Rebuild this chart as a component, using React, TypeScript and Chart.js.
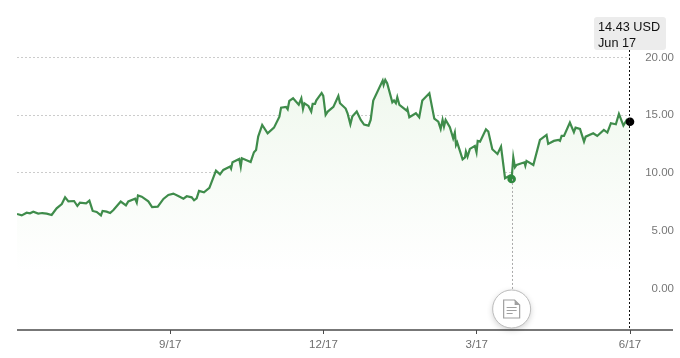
import React, { useEffect, useRef } from "react";
import { Chart, registerables } from "chart.js";

Chart.register(...registerables);

const tradingDays = [
  0, 2, 4.1, 5.5, 6.9, 9, 10.7, 12.6, 14.7, 16.8, 19, 20.4, 21.8, 24.2, 25.6, 26.7, 29.3, 30.7, 32.1, 33.8, 35.6, 36.3, 38, 39.5, 40.9, 44, 46.2, 47.2, 50.1, 50.8, 51.3, 52.9, 55.7, 57.3, 59.7, 62.1, 64.2, 66.3, 68.4, 70.6, 72, 74.1, 75.1, 76.2, 77.2, 79.3, 81.6, 84.4, 86.1, 87.5, 90.4, 90.8, 91.4, 94.3,
  94.9, 95.4, 99.1, 100.5, 101.4, 102.3, 104, 106.3, 109, 111.3, 112, 114.1, 114.8, 115.5, 117.1, 119.5, 120.6, 121.3, 121.9, 123.6, 124.8, 125.4, 126.4, 126.9, 129.2, 129.9, 130.9, 131.8, 134.2, 136.3, 137, 139.4, 140.2, 141.4, 142.2, 144.1, 145.8, 147.2, 149.1, 150, 151.1, 155.1, 155.5, 156.2, 157, 159.2, 159.9, 160.7, 161.3, 162.2, 165.3, 165.6, 166.4, 169.2, 170.6, 171.9, 174.9, 177,
  178.7, 179.7, 180.5, 181.1, 181.8, 183.6, 185, 185.7, 186.2, 186.7, 189, 190, 190.4, 191.1, 192.1, 194.2, 194.9, 195.4, 196.4, 198.9, 199.9, 201.6, 203.8, 205.3, 207, 209.1, 209.8, 210.5, 211.2, 211.9, 215.2, 215.6, 216.1, 219, 221.8, 224.6, 225.3, 227.7, 229.6, 230.3, 231, 232, 234.5, 236.2, 236.9, 238.8, 240.5, 241.2, 244.4, 246.1, 248.9, 250.4, 251.9, 254, 255.3, 257.2, 258.6, 260,
];
const prices = [
  6.45, 6.33, 6.56, 6.51, 6.65, 6.48, 6.53, 6.48, 6.36, 6.94, 7.31, 7.89, 7.54, 7.57, 7.14, 7.43, 7.37, 7.6, 6.71, 6.62, 6.33, 6.71, 6.65, 6.53, 6.79, 7.52, 7.2, 7.54, 7.77, 7.43, 8.06, 7.95, 7.54, 7.05, 7.08, 7.75, 8.09, 8.21, 8.0, 7.77, 7.98, 7.89, 7.63, 7.8, 8.44, 8.32, 8.7, 10.2, 9.88, 10.26, 10.55, 10.37, 10.92, 11.21,
  10.54, 11.27, 10.95, 11.79, 11.99, 13.14, 14.15, 13.43, 13.92, 14.87, 15.65, 15.71, 15.51, 16.23, 16.46, 15.91, 16.46, 15.54, 16.03, 15.8, 15.31, 15.97, 15.97, 16.26, 16.92, 16.66, 15.02, 15.31, 15.71, 16.66, 16.03, 15.57, 15.16, 14.21, 14.87, 15.31, 14.59, 14.18, 14.09, 14.59, 16.26, 17.99, 17.62, 18.05, 17.76, 16.11, 16.26, 16.03, 16.55, 15.88, 15.39, 15.54, 14.82, 15.16, 14.82, 16.26, 16.89, 14.7,
  14.44, 13.81, 14.59, 14.01, 14.59, 13.95, 13.0, 13.49, 12.42, 12.65, 11.18, 11.35, 11.85, 11.41, 12.08, 12.34, 11.79, 12.77, 12.71, 13.78, 13.58, 12.05, 11.64, 12.28, 9.54, 9.77, 9.48, 11.35, 10.49, 10.69, 10.92, 10.63, 11.04, 10.69, 12.86, 13.29, 12.51, 12.77, 12.86, 12.77, 13.2, 13.2, 14.36, 13.52, 13.92, 13.81, 12.71, 13.14, 13.43, 13.2, 13.72, 13.49, 14.3, 14.21, 15.11, 14.1, 14.59, 14.43,
];

const xTickDays = [65, 130, 195, 260];
const xTickLabels = ["9/17", "12/17", "3/17", "6/17"];
const yTickValues = [0, 5, 10, 15, 20];
const eventDay = 209.8;
const eventPrice = 9.48;
const lastDay = 260;
const lastPrice = 14.43;
const calloutLines = ["14.43 USD", "Jun 17"];

const FONT = '"Liberation Sans", Arial, sans-serif';

const overlay = {
  id: "overlay",
  afterDatasetsDraw(chart: any) {
    const { ctx, scales, chartArea } = chart;
    const x = scales.x;
    const y = scales.y;
    ctx.save();

    ctx.strokeStyle = "#4a4a4a";
    ctx.lineWidth = 1.5;
    ctx.beginPath();
    ctx.moveTo(chartArea.left, chartArea.bottom);
    ctx.lineTo(673, chartArea.bottom);
    ctx.stroke();

    const cx = Math.round(x.getPixelForValue(lastDay)) - 0.5;
    ctx.strokeStyle = "#111";
    ctx.lineWidth = 1;
    ctx.setLineDash([2, 2]);
    ctx.beginPath();
    ctx.moveTo(cx, 50);
    ctx.lineTo(cx, chartArea.bottom);
    ctx.stroke();

    const ex = x.getPixelForValue(eventDay);
    const ey = y.getPixelForValue(eventPrice);
    const cy = 309;
    ctx.strokeStyle = "#aaa";
    ctx.setLineDash([2, 2]);
    ctx.beginPath();
    ctx.moveTo(Math.round(ex) + 0.5, ey);
    ctx.lineTo(Math.round(ex) + 0.5, cy - 19);
    ctx.stroke();
    ctx.setLineDash([]);

    ctx.save();
    ctx.shadowColor = "rgba(0,0,0,0.2)";
    ctx.shadowBlur = 6;
    ctx.shadowOffsetY = 2;
    ctx.fillStyle = "#fff";
    ctx.beginPath();
    ctx.arc(ex, cy, 19, 0, Math.PI * 2);
    ctx.fill();
    ctx.restore();
    ctx.strokeStyle = "#bdbdbd";
    ctx.lineWidth = 1;
    ctx.beginPath();
    ctx.arc(ex, cy, 19, 0, Math.PI * 2);
    ctx.stroke();

    const l = ex - 8, t = cy - 9, w = 16, h = 18, fold = 5;
    ctx.strokeStyle = "#a0a0a0";
    ctx.lineWidth = 1.2;
    ctx.beginPath();
    ctx.moveTo(l, t);
    ctx.lineTo(l + w - fold, t);
    ctx.lineTo(l + w, t + fold);
    ctx.lineTo(l + w, t + h);
    ctx.lineTo(l, t + h);
    ctx.closePath();
    ctx.stroke();
    ctx.fillStyle = "#a0a0a0";
    ctx.beginPath();
    ctx.moveTo(l + w - fold, t);
    ctx.lineTo(l + w, t + fold);
    ctx.lineTo(l + w - fold, t + fold);
    ctx.closePath();
    ctx.fill();
    ctx.beginPath();
    [7.5, 10.5, 13.5].forEach((o, i) => {
      ctx.moveTo(l + 3, t + o);
      ctx.lineTo(l + (i === 2 ? 9 : 13), t + o);
    });
    ctx.stroke();

    ctx.fillStyle = "#ececec";
    ctx.beginPath();
    ctx.roundRect(594, 17, 72, 33, 3);
    ctx.fill();
    ctx.fillStyle = "#111";
    ctx.font = `12.7px ${FONT}`;
    ctx.textAlign = "left";
    ctx.textBaseline = "alphabetic";
    ctx.fillText(calloutLines[0], 598, 30.5);
    ctx.fillText(calloutLines[1], 598, 46.5);
    ctx.restore();
  },
};

export default function App() {
  const ref = useRef<HTMLCanvasElement>(null);
  useEffect(() => {
    const canvas = ref.current;
    if (!canvas) return;
    const series = tradingDays.map((d, i) => ({ x: d, y: prices[i] }));
    const chart = new Chart(canvas, {
      type: "line",
      data: {
        datasets: [
          {
            label: "Last",
            data: [{ x: lastDay, y: lastPrice }],
            pointRadius: 4.3,
            pointBackgroundColor: "#000",
            pointBorderWidth: 0,
            showLine: false,
            clip: false,
            order: 0,
          },
          {
            label: "Event",
            data: [{ x: eventDay, y: eventPrice }],
            pointRadius: 4.3,
            pointBackgroundColor: "#2f8a3f",
            pointBorderWidth: 0,
            showLine: false,
            clip: false,
            order: 1,
          },
          {
            label: "Price",
            data: series,
            borderColor: "#3f8c4b",
            borderWidth: 2.2,
            pointRadius: 0,
            tension: 0,
            fill: "start",
            order: 2,
            backgroundColor: (c: any) => {
              const g = c.chart.ctx.createLinearGradient(0, 80, 0, 272);
              g.addColorStop(0, "#f0f8ee");
              g.addColorStop(1, "#ffffff");
              return g;
            },
          },
        ],
      },
      options: {
        responsive: false,
        animation: false,
        events: [],
        layout: { padding: { left: 17, right: 6, top: 0, bottom: 0 } },
        plugins: { legend: { display: false }, tooltip: { enabled: false } },
        scales: {
          x: {
            type: "linear",
            min: 0,
            max: lastDay,
            afterBuildTicks: (s: any) => {
              s.ticks = xTickDays.map((v) => ({ value: v }));
            },
            afterFit: (s: any) => {
              s.height = 28;
              s.paddingLeft = 0;
              s.paddingRight = 0;
            },
            border: { display: false },
            grid: {
              drawOnChartArea: false,
              drawTicks: true,
              tickLength: 4,
              color: "#4a4a4a",
            },
            ticks: {
              autoSkip: false,
              maxRotation: 0,
              padding: 4,
              color: "#6e6e6e",
              font: { family: FONT, size: 11.5 },
              callback: (v: any) => xTickLabels[xTickDays.indexOf(Number(v))] ?? "",
            },
          },
          y: {
            type: "linear",
            position: "right",
            min: -3.59,
            max: 24.59,
            afterBuildTicks: (s: any) => {
              s.ticks = yTickValues.map((v) => ({ value: v }));
            },
            afterFit: (s: any) => {
              s.width = 44;
              s.paddingTop = 0;
              s.paddingBottom = 0;
            },
            border: { display: false, dash: [2, 2] },
            grid: {
              drawTicks: false,
              color: "#cccccc",
              lineWidth: 1,
            },
            ticks: {
              crossAlign: "far",
              padding: 0,
              color: "#777",
              font: { family: FONT, size: 11.5 },
              callback: (v: any) => Number(v).toFixed(2),
            },
          },
        },
      },
      plugins: [overlay],
    } as any);
    return () => chart.destroy();
  }, []);
  return (
    <div style={{ position: "absolute", left: 0, top: 0, width: 680, height: 358, background: "#fff" }}>
      <canvas ref={ref} width={680} height={358} style={{ display: "block" }} />
    </div>
  );
}
